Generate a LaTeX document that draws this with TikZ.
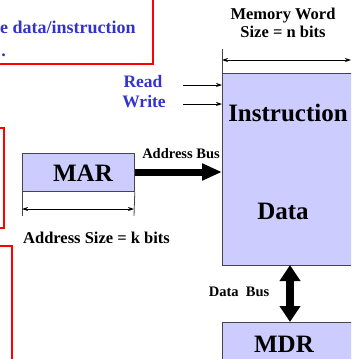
\documentclass[tikz,border=0pt]{standalone}
\usepackage{fontspec}
\setmainfont{Liberation Serif}
\usetikzlibrary{arrows.meta}
\definecolor{memfill}{RGB}{204,204,255}
\definecolor{noteblue}{RGB}{51,51,204}
\definecolor{edge}{RGB}{70,70,70}
\tikzset{
  blockbox/.style={fill=memfill, draw=edge, line width=0.8pt},
  notebox/.style={draw=red, line width=2pt},
  dimline/.style={line width=0.8pt, {Stealth[length=6pt,width=4pt]}-{Stealth[length=6pt,width=4pt]}},
  sigline/.style={line width=0.8pt, -{Stealth[length=6pt,width=4pt]}},
  bigtext/.style={font=\fontsize{25}{28}\selectfont\bfseries},
  midtext/.style={font=\fontsize{16.5}{19}\selectfont\bfseries},
  smalltext/.style={font=\fontsize{14.5}{17}\selectfont\bfseries},
  bluetext/.style={font=\fontsize{17.5}{21}\selectfont\bfseries, text=noteblue},
  notetext/.style={font=\fontsize{18}{22}\selectfont\bfseries, text=noteblue},
}
\begin{document}
\begin{tikzpicture}[x=1pt,y=-1pt]
\useasboundingbox (0,0) rectangle (351,359);
\begin{scope}
\clip (0,0) rectangle (351,359);
% explanatory note boxes, cut off at the left edge
\draw[notebox] (-200,-20) rectangle (153,64);
\draw[notebox] (-200,128) rectangle (4,228);
\draw[notebox] (-200,246) rectangle (12,400);
\node[notetext, anchor=base west, inner sep=0pt] (note2) at (0,33) {e data/instruction};
\node[notetext, anchor=base east, inner sep=0pt] (note3) at (6,56) {.};

% memory array
\node[blockbox, minimum width=140pt, minimum height=192pt, anchor=north west, inner sep=0pt] (mem) at (222,73) {};
\node[blockbox, minimum width=140pt, minimum height=50pt, anchor=north west, inner sep=0pt] (mdr) at (222,322) {};
\coordinate (wl) at (222,49);
\draw[edge, line width=0.8pt] (wl) -- (mem.north west);
\coordinate (wa) at (222,60);
\coordinate (wb) at (351,60);
\draw[dimline] (wa) -- (wb);
\end{scope}

\node[midtext, align=center] (wordsize) at (283,23) {Memory Word\\[-1pt]Size = n bits};
\node[bigtext] (instr) at (288,113) {Instruction};
\node[bigtext] (data) at (283,211) {Data};
\node[bigtext] (mdrlabel) at (284,344) {MDR};

% read / write control lines
\node[bluetext] (rd) at (143,82) {Read};
\node[bluetext] (wr) at (144,102) {Write};
\coordinate (rdin) at (183,85);
\coordinate (wrin) at (183,104);
\coordinate (rdend) at (222,85);
\coordinate (wrend) at (222,104);
\draw[sigline] (rdin) -- (rdend);
\draw[sigline] (wrin) -- (wrend);

% memory address register
\node[blockbox, minimum width=112pt, minimum height=38pt, anchor=north west, inner sep=0pt] (mar) at (22,153) {};
\node[bigtext] (marlabel) at (83,173) {MAR};
\coordinate (ml) at (22,216);
\coordinate (mr) at (134,216);
\draw[edge, line width=0.8pt] (mar.south west) -- (ml);
\draw[edge, line width=0.8pt] (mar.south east) -- (mr);
\coordinate (mla) at (22,209);
\coordinate (mra) at (134,209);
\draw[dimline] (mla) -- (mra);
\node[midtext] (addrsize) at (96.5,238) {Address Size = k bits};

% address bus
\coordinate (abend) at (222,172);
\draw[line width=7pt, -{Triangle[length=20pt,width=16pt]}] (mar.east |- abend) -- (abend);
\node[smalltext] (ablabel) at (181,154) {Address Bus};

% data bus
\draw[line width=8pt, {Triangle[length=16pt,width=20pt]}-{Triangle[length=16pt,width=20pt]}] (290,265) -- (290,322);
\node[smalltext] (dblabel) at (239,292) {Data\ \ Bus};
\end{tikzpicture}
\end{document}
